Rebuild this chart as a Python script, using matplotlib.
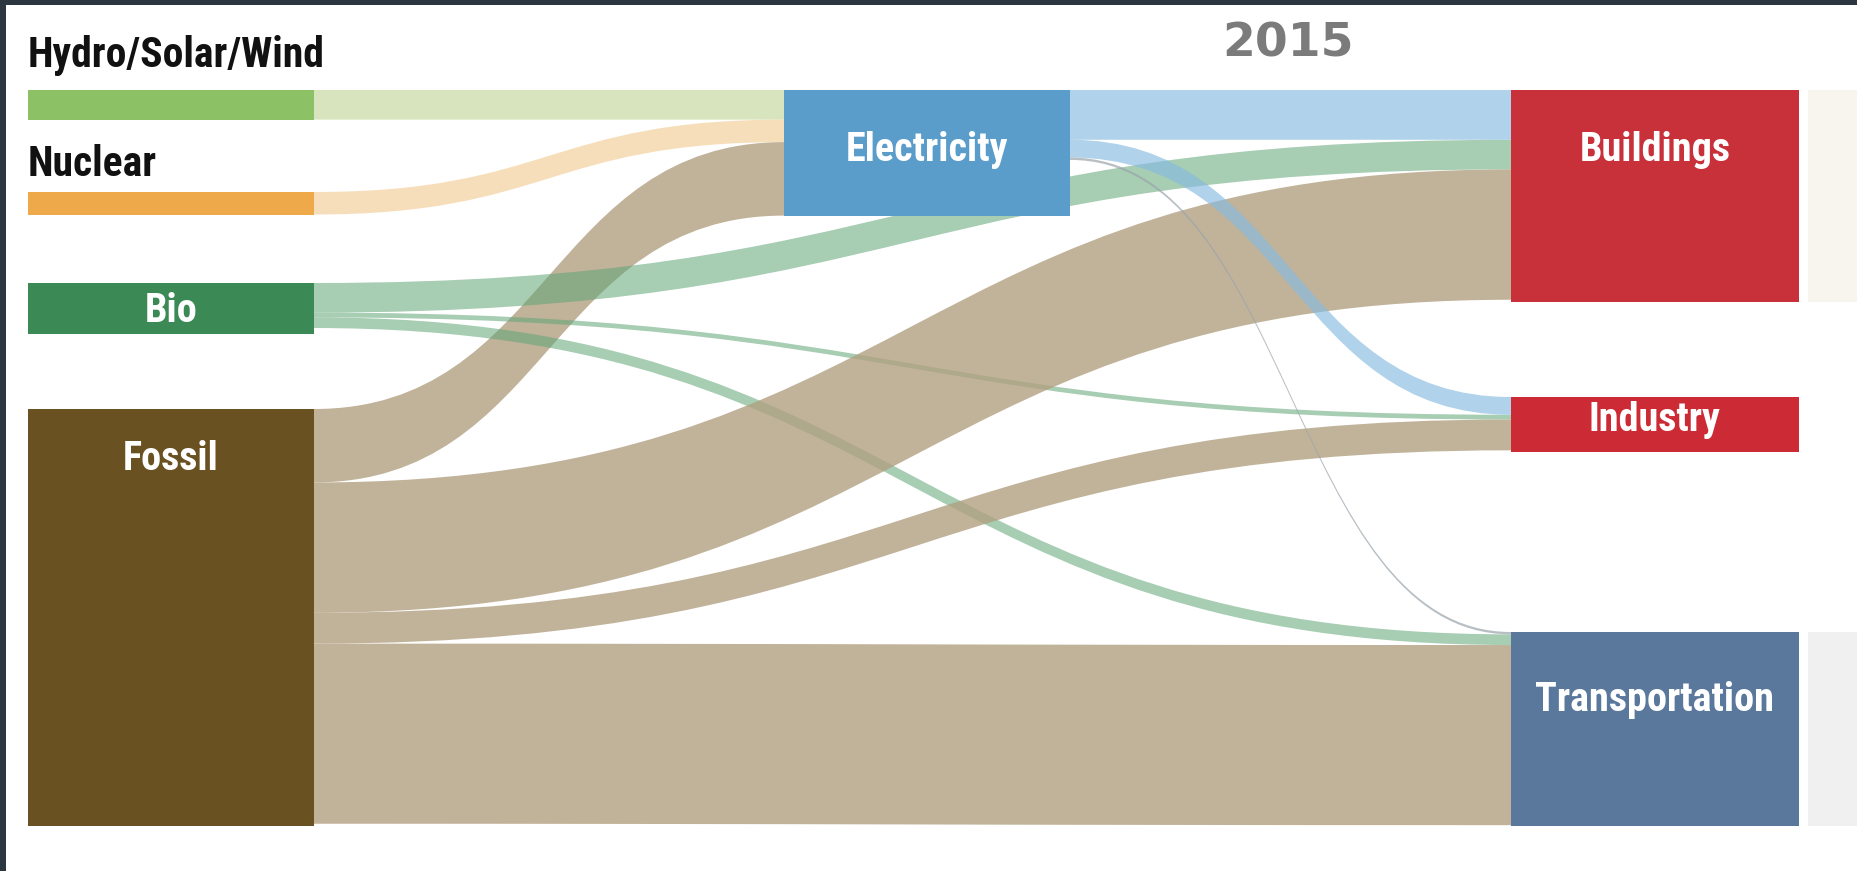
import matplotlib
matplotlib.use('Agg')
import matplotlib.pyplot as plt
from matplotlib import font_manager as fm
from matplotlib.path import Path
from matplotlib.patches import PathPatch, Rectangle

# energy flows 2015 (relative units)
nodes = ['Hydro/Solar/Wind', 'Nuclear', 'Bio', 'Fossil',
         'Electricity', 'Buildings', 'Industry', 'Transportation']
node_value = [25, 19, 43, 352, 106, 179, 46, 164]

flow_src = ['Hydro/Solar/Wind', 'Nuclear', 'Fossil',
            'Bio', 'Bio', 'Bio',
            'Fossil', 'Fossil', 'Fossil',
            'Electricity', 'Electricity', 'Electricity']
flow_dst = ['Electricity', 'Electricity', 'Electricity',
            'Buildings', 'Industry', 'Transportation',
            'Buildings', 'Industry', 'Transportation',
            'Buildings', 'Industry', 'Transportation']
flow_val = [25, 19, 62,
            25, 4, 9,
            110, 26, 152,
            42, 15, 2]

# order in which inflows stack on each target (top to bottom)
target_order = {
    'Electricity': ['Hydro/Solar/Wind', 'Nuclear', 'Fossil'],
    'Buildings': ['Electricity', 'Bio', 'Fossil'],
    'Industry': ['Electricity', 'Bio', 'Fossil'],
    'Transportation': ['Electricity', 'Bio', 'Fossil'],
}

# layout (pixels)
W, H = 1858, 871
scale = 1.185
col_x = {'left': (28, 314), 'mid': (784, 1070), 'right': (1511, 1799)}
node_col = {'Hydro/Solar/Wind': 'left', 'Nuclear': 'left', 'Bio': 'left', 'Fossil': 'left',
            'Electricity': 'mid', 'Buildings': 'right', 'Industry': 'right',
            'Transportation': 'right'}
node_top = {'Hydro/Solar/Wind': 90, 'Nuclear': 192, 'Bio': 283, 'Fossil': 409,
            'Electricity': 90, 'Buildings': 90, 'Industry': 397, 'Transportation': 632}
node_color = {'Hydro/Solar/Wind': '#8cc265', 'Nuclear': '#eda94a', 'Bio': '#3b8a56',
              'Fossil': '#6a5121', 'Electricity': '#5a9cca', 'Buildings': '#c8303a',
              'Industry': '#cc2a35', 'Transportation': '#5a779c'}
flow_color = {'Hydro/Solar/Wind': ('#d3e2b6', 0.9), 'Nuclear': ('#f1c98f', 0.6),
              'Bio': ('#5fa476', 0.55), 'Fossil': ('#b2a081', 0.8),
              'Electricity': ('#86bbe0', 0.65)}
label_pos = {'Bio': 311, 'Fossil': 459, 'Electricity': 150, 'Buildings': 150,
             'Industry': 420, 'Transportation': 700}


# pick a narrow bold face if one is installed
def narrow_font():
    prefs = ['Liberation Sans Narrow', 'Roboto Condensed', 'Open Sans Condensed',
             'DejaVu Sans Condensed', 'Noto Sans Condensed', 'DejaVu Sans']
    found = []
    for f in fm.fontManager.ttflist:
        w = f.weight if isinstance(f.weight, int) else fm.weight_dict.get(f.weight, 400)
        narrow = ('Narrow' in f.name or 'Condensed' in f.name
                  or 'condensed' in str(f.stretch) or 'Condensed' in f.fname)
        if narrow and w >= 600 and 'Italic' not in f.fname and f.style == 'normal':
            found.append(f)
    for p in prefs:
        for f in found:
            if f.name == p or p.replace(' ', '') in f.fname.replace('-', ''):
                return fm.FontProperties(fname=f.fname), True
    if found:
        return fm.FontProperties(fname=found[0].fname), True
    return fm.FontProperties(family='DejaVu Sans', weight='bold', stretch='condensed'), False


cond, ok = narrow_font()
lab_size = 29 if ok else 24
side_size = 30 if ok else 25

fig = plt.figure(figsize=(W / 100, H / 100), dpi=100)
ax = fig.add_axes([0, 0, 1, 1])
ax.set_xlim(0, W)
ax.set_ylim(H, 0)
ax.axis('off')

# faint ghost of the next stage on the right edge
ax.add_patch(Rectangle((1808, 90), 60, 212, color='#f8f5ef', lw=0))
ax.add_patch(Rectangle((1808, 632), 60, 194, color='#f0f0f0', lw=0))

# flows
src_off = {n: 0.0 for n in nodes}
tgt_start = {}
for t, order in target_order.items():
    acc = 0.0
    for s in order:
        i = [k for k in range(len(flow_src)) if flow_src[k] == s and flow_dst[k] == t][0]
        tgt_start[i] = acc
        acc += flow_val[i]

for i in range(len(flow_val)):
    s, t, v = flow_src[i], flow_dst[i], flow_val[i]
    x0 = col_x[node_col[s]][1]
    x1 = col_x[node_col[t]][0]
    y0a = node_top[s] + src_off[s] * scale
    y0b = y0a + v * scale
    src_off[s] += v
    y1a = node_top[t] + tgt_start[i] * scale
    y1b = y1a + v * scale
    xm = (x0 + x1) / 2
    verts = [(x0, y0a), (xm, y0a), (xm, y1a), (x1, y1a),
             (x1, y1b), (xm, y1b), (xm, y0b), (x0, y0b), (x0, y0a)]
    codes = [Path.MOVETO, Path.CURVE4, Path.CURVE4, Path.CURVE4,
             Path.LINETO, Path.CURVE4, Path.CURVE4, Path.CURVE4, Path.CLOSEPOLY]
    c, a = flow_color[s]
    if v < 3:
        c, a = '#9aa4ab', 0.7
    ax.add_patch(PathPatch(Path(verts, codes), facecolor=c, alpha=a, lw=0))

# nodes
for n, v in zip(nodes, node_value):
    x0, x1 = col_x[node_col[n]]
    ax.add_patch(Rectangle((x0, node_top[n]), x1 - x0, v * scale,
                           color=node_color[n], lw=0))
    if n in label_pos:
        ax.text((x0 + x1) / 2, label_pos[n], n, color='white', fontsize=lab_size,
                fontproperties=cond, ha='center', va='center')

ax.text(28, 55, 'Hydro/Solar/Wind', color='#111111', fontsize=side_size,
        fontproperties=cond, ha='left', va='center')
ax.text(28, 164, 'Nuclear', color='#111111', fontsize=side_size,
        fontproperties=cond, ha='left', va='center')
ax.text(1288, 44, '2015', color='#7b7b7b', fontsize=34, fontweight='bold',
        family='DejaVu Sans', ha='center', va='center')

# dark frame on top and left
ax.add_patch(Rectangle((0, 0), W, 5, color='#2b3640', lw=0))
ax.add_patch(Rectangle((0, 0), 6, H, color='#2b3640', lw=0))

fig.savefig('out.png', dpi=100)
